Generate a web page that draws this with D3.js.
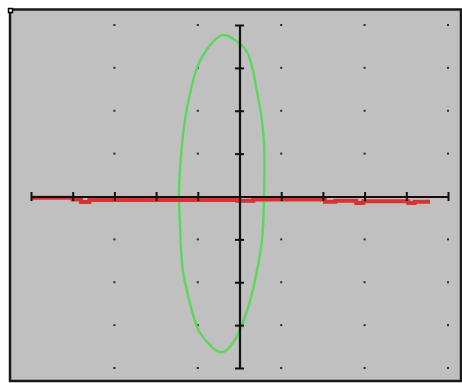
<!DOCTYPE html>
<html>
<head>
<meta charset="utf-8">
<script src="https://cdn.jsdelivr.net/npm/d3@7/dist/d3.min.js"></script>
<style>
  html, body { margin: 0; padding: 0; background: #ffffff; }
  svg { display: block; }
</style>
</head>
<body>
<svg id="scope" width="462" height="383"></svg>
<script>
// Axis tick positions (one tick per division)
const xTicks = [-5, -4, -3, -2, -1, 0, 1, 2, 3, 4, 5];
const yTicks = [-4, -3, -2, -1, 0, 1, 2, 3, 4];

// Graticule dots
const gridX = [-3, -1, 1, 3, 5];
const gridY = [-4, -3, -2, -1, 1, 2, 3, 4];

// Green trace (closed loop)
const greenX = [-0.40, -0.08, 0.18, 0.32, 0.42, 0.52, 0.59, 0.59, 0.54, 0.32, 0.08, -0.16,
                -0.40, -0.64, -1.02, -1.35, -1.43, -1.45, -1.38, -1.26, -1.02, -0.71];
const greenY = [3.77, 3.63, 3.37, 2.95, 2.44, 1.90, 1.20, 0.10, -1.01, -2.18, -2.95, -3.42,
                -3.63, -3.53, -3.04, -1.78, -0.62, 0.15, 1.20, 2.06, 3.00, 3.53];

// Red trace (stepped)
const redX = [-5.00, -4.00, -3.80, -3.60, -0.05, 0.33, 2.05, 2.30, 2.80, 2.97, 4.05, 4.20, 4.57];
const redY = [-0.03, -0.07, -0.13, -0.08, -0.10, -0.07, -0.12, -0.10, -0.15, -0.11, -0.15, -0.12, -0.12];

const svg = d3.select("#scope");

const x = d3.scaleLinear().domain([-5, 5]).range([31, 448]);
const y = d3.scaleLinear().domain([-4, 4]).range([368, 25]);

// Screen panel
svg.append("rect")
  .attr("x", 10).attr("y", 9.5)
  .attr("width", 451).attr("height", 371.5)
  .attr("fill", "#c0c0c0")
  .attr("stroke", "#1a1a1a")
  .attr("stroke-width", 2.5);

// Corner marker
svg.append("rect")
  .attr("x", 8.5).attr("y", 8.5).attr("width", 4).attr("height", 4)
  .attr("fill", "#ffffff").attr("stroke", "#000").attr("stroke-width", 1.5);

// Graticule dots
const dots = [];
gridX.forEach(gx => gridY.forEach(gy => dots.push([gx, gy])));
svg.append("g")
  .selectAll("rect")
  .data(dots)
  .join("rect")
  .attr("x", d => x(d[0]) - 1)
  .attr("y", d => y(d[1]) - 1)
  .attr("width", 2).attr("height", 2)
  .attr("fill", "#2a2a2a");

// Green loop
const greenPts = greenX.map((v, i) => [v, greenY[i]]);
svg.append("path")
  .datum(greenPts)
  .attr("d", d3.line().x(d => x(d[0])).y(d => y(d[1])).curve(d3.curveCardinalClosed.tension(0.2)))
  .attr("fill", "none")
  .attr("stroke", "#5ad85a")
  .attr("stroke-width", 2.4);

// Red trace
const redPts = redX.map((v, i) => [v, redY[i]]);
svg.append("path")
  .datum(redPts)
  .attr("d", d3.line().x(d => x(d[0])).y(d => y(d[1])).curve(d3.curveStepAfter))
  .attr("fill", "none")
  .attr("stroke", "#d83232")
  .attr("stroke-width", 4);

// Horizontal axis through the centre
const xAxis = svg.append("g")
  .attr("transform", `translate(0,${y(0)})`)
  .call(d3.axisBottom(x).tickValues(xTicks).tickSizeOuter(0).tickFormat(""));
xAxis.select(".domain").attr("stroke", "#1a0a0a").attr("stroke-width", 2);
xAxis.selectAll(".tick line").attr("y1", -4.5).attr("y2", 4.5)
  .attr("stroke", "#111").attr("stroke-width", 2);

// Vertical axis through the centre
const yAxis = svg.append("g")
  .attr("transform", `translate(${x(0)},0)`)
  .call(d3.axisLeft(y).tickValues(yTicks).tickSizeOuter(0).tickFormat(""));
yAxis.select(".domain").attr("stroke", "#111").attr("stroke-width", 2.2);
yAxis.selectAll(".tick line").attr("x1", -4.5).attr("x2", 4.5)
  .attr("stroke", "#111").attr("stroke-width", 2);
</script>
</body>
</html>
